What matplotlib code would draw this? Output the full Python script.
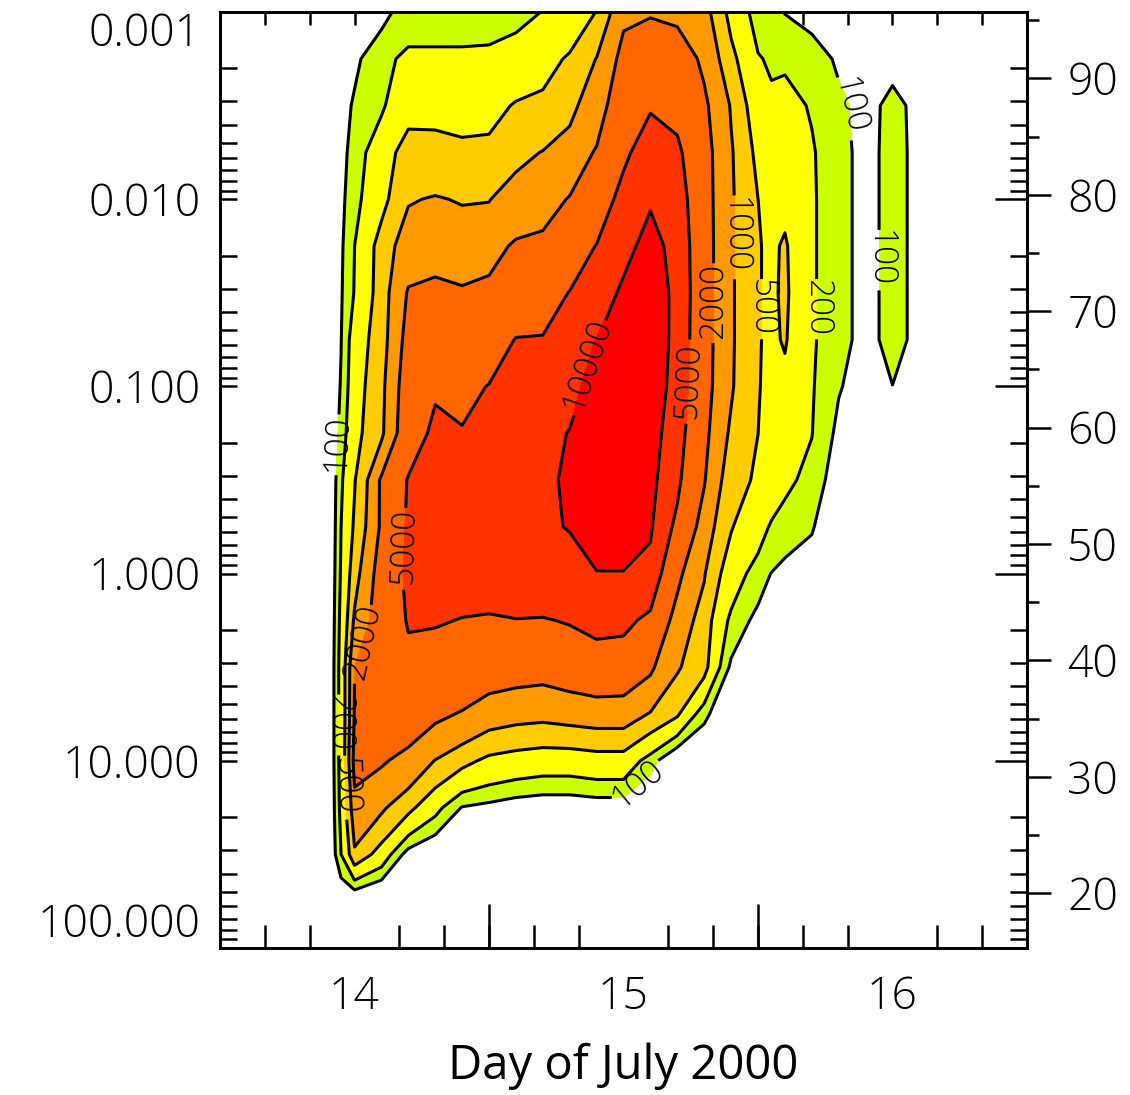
import numpy as np
import matplotlib
matplotlib.use("Agg")
import matplotlib.pyplot as plt
from matplotlib.ticker import FixedLocator, LogLocator, NullFormatter, NullLocator

# profile times, day of July 2000
days = [14.30, 14.40, 14.45, 14.50, 14.60, 14.70, 14.80, 14.90, 15.00,
        15.10, 15.20, 15.30, 15.40, 15.50, 15.60, 15.70, 15.80, 15.90,
        16.00, 16.05, 16.10, 16.20, 16.30, 16.40, 16.50, 16.60, 16.70]

# log10 pressure (hPa) of the levels, top to bottom
log_pressure = [-3.0, -2.75, -2.5, -2.25, -2.0, -1.75, -1.5, -1.25, -1.0,
                -0.75, -0.5, -0.25, 0.0, 0.25, 0.5, 0.75, 1.0, 1.25, 1.5,
                1.75, 2.0]

# log10 of the contoured quantity, one profile per time (top to bottom)
prof_1430 = [1.3, 1.3, 1.3, 1.3, 1.3, 1.3, 1.3, 1.3, 1.3, 1.3, 1.3, 1.3, 1.3, 1.3, 1.3, 1.3, 1.3, 1.3, 1.3, 1.3, 1.3]
prof_1440 = [1.6, 1.6, 1.6, 1.6, 1.6, 1.6, 1.6, 1.6, 1.6, 1.6, 1.6, 1.6, 1.6, 1.6, 1.6, 1.6, 1.6, 1.6, 1.6, 1.6, 1.3]
prof_1445 = [1.6, 1.75, 1.85, 1.9, 1.92, 1.95, 1.97, 1.99, 2.03, 2.12, 2.25, 2.3, 2.34, 2.4, 2.45, 2.45, 2.45, 2.4, 2.3, 1.6, 1.3]
prof_1450 = [1.7, 1.93, 2.05, 2.12, 2.2, 2.3, 2.32, 2.5, 2.55, 2.6, 2.68, 2.75, 2.89, 3.05, 3.3, 3.32, 3.4, 3.2, 2.95, 1.6, 1.3]
prof_1460 = [1.9, 2.22, 2.25, 2.55, 2.6, 2.85, 2.87, 2.88, 2.93, 2.95, 3.35, 3.35, 3.46, 3.5, 3.55, 3.45, 3.33, 3.05, 2.55, 1.4, 1.3]
prof_1470 = [2.15, 2.37, 2.6, 2.83, 2.98, 3.15, 3.33, 3.42, 3.5, 3.55, 3.72, 3.75, 3.76, 3.72, 3.62, 3.45, 3.22, 2.8, 1.85, 1.4, 1.3]
prof_1480 = [2.15, 2.37, 2.6, 2.82, 3.02, 3.2, 3.37, 3.52, 3.67, 3.76, 3.82, 3.84, 3.8, 3.72, 3.55, 3.36, 2.99, 2.42, 1.6, 1.4, 1.3]
prof_1490 = [2.15, 2.37, 2.57, 2.78, 2.98, 3.18, 3.33, 3.48, 3.62, 3.72, 3.8, 3.83, 3.8, 3.69, 3.5, 3.28, 2.8, 1.98, 1.5, 1.4, 1.3]
prof_1500 = [2.16, 2.38, 2.58, 2.8, 2.99, 3.2, 3.38, 3.55, 3.71, 3.8, 3.86, 3.87, 3.83, 3.67, 3.45, 3.15, 2.62, 1.9, 1.5, 1.4, 1.3]
prof_1510 = [2.2, 2.47, 2.73, 2.93, 3.13, 3.34, 3.52, 3.71, 3.82, 3.9, 3.93, 3.94, 3.88, 3.69, 3.42, 3.1, 2.55, 1.8, 1.5, 1.4, 1.3]
prof_1520 = [2.31, 2.55, 2.8, 3.01, 3.18, 3.38, 3.55, 3.72, 3.85, 3.93, 3.96, 3.97, 3.9, 3.68, 3.4, 3.08, 2.5, 1.75, 1.5, 1.4, 1.3]
prof_1530 = [2.45, 2.75, 2.93, 3.12, 3.32, 3.52, 3.71, 3.82, 3.93, 4.01, 4.03, 4.01, 3.9, 3.72, 3.45, 3.12, 2.5, 1.75, 1.5, 1.4, 1.3]
prof_1540 = [2.71, 3.01, 3.16, 3.33, 3.52, 3.71, 3.85, 4.01, 4.1, 4.15, 4.17, 4.12, 3.99, 3.8, 3.5, 3.15, 2.55, 1.8, 1.5, 1.4, 1.3]
prof_1550 = [3.25, 3.4, 3.52, 3.65, 3.8, 3.93, 4.05, 4.15, 4.2, 4.22, 4.2, 4.12, 3.99, 3.78, 3.48, 3.15, 2.55, 1.8, 1.5, 1.4, 1.3]
prof_1560 = [3.28, 3.5, 3.68, 3.83, 3.98, 4.08, 4.13, 4.15, 4.15, 4.12, 4.08, 4.03, 3.92, 3.62, 3.35, 2.98, 2.15, 1.5, 1.4, 1.4, 1.3]
prof_1570 = [3.25, 3.45, 3.62, 3.76, 3.86, 3.92, 3.94, 3.93, 3.9, 3.83, 3.76, 3.62, 3.37, 3.18, 3.03, 2.75, 1.6, 1.5, 1.4, 1.4, 1.3]
prof_1580 = [3.12, 3.25, 3.36, 3.42, 3.43, 3.44, 3.44, 3.43, 3.42, 3.38, 3.32, 3.17, 3.02, 2.88, 2.82, 2.1, 1.5, 1.45, 1.4, 1.4, 1.3]
prof_1590 = [2.6, 2.8, 2.98, 3.03, 3.04, 3.04, 3.04, 3.04, 3.03, 2.95, 2.83, 2.72, 2.5, 2.22, 1.93, 1.6, 1.5, 1.45, 1.4, 1.4, 1.3]
prof_1600 = [2.15, 2.33, 2.5, 2.62, 2.7, 2.72, 2.72, 2.72, 2.72, 2.7, 2.65, 2.45, 2.15, 1.9, 1.6, 1.5, 1.5, 1.45, 1.4, 1.4, 1.3]
prof_1605 = [2.1, 2.25, 2.38, 2.5, 2.58, 2.64, 2.64, 2.64, 2.6, 2.57, 2.5, 2.26, 1.99, 1.8, 1.6, 1.5, 1.5, 1.45, 1.4, 1.4, 1.3]
prof_1610 = [1.99, 2.27, 2.38, 2.5, 2.62, 2.74, 2.76, 2.73, 2.6, 2.5, 2.38, 2.15, 1.9, 1.6, 1.55, 1.5, 1.5, 1.45, 1.4, 1.4, 1.3]
prof_1620 = [1.9, 2.15, 2.28, 2.33, 2.34, 2.34, 2.34, 2.34, 2.33, 2.31, 2.2, 2.03, 1.8, 1.6, 1.55, 1.5, 1.5, 1.45, 1.4, 1.4, 1.3]
prof_1630 = [1.7, 1.95, 2.08, 2.12, 2.12, 2.12, 2.12, 2.12, 2.02, 1.92, 1.8, 1.7, 1.6, 1.55, 1.5, 1.5, 1.5, 1.45, 1.4, 1.4, 1.3]
prof_1640 = [1.7, 1.88, 1.88, 1.88, 1.88, 1.88, 1.88, 1.88, 1.88, 1.8, 1.75, 1.7, 1.6, 1.55, 1.5, 1.5, 1.5, 1.45, 1.4, 1.4, 1.3]
prof_1650 = [1.75, 1.9, 2.1, 2.12, 2.12, 2.12, 2.12, 2.12, 1.995, 1.85, 1.8, 1.7, 1.6, 1.55, 1.5, 1.5, 1.5, 1.45, 1.4, 1.4, 1.3]
prof_1660 = [1.7, 1.9, 1.9, 1.9, 1.9, 1.9, 1.9, 1.9, 1.9, 1.8, 1.75, 1.7, 1.6, 1.55, 1.5, 1.5, 1.5, 1.45, 1.4, 1.4, 1.3]
prof_1670 = [1.6, 1.6, 1.6, 1.6, 1.6, 1.6, 1.6, 1.6, 1.6, 1.6, 1.6, 1.6, 1.6, 1.6, 1.6, 1.6, 1.6, 1.6, 1.6, 1.6, 1.3]

levels = [100, 200, 500, 1000, 2000, 5000, 10000]
fill_colors = ["#ccff00", "#ffff00", "#ffcc00", "#ff9900", "#ff6600", "#ff3300", "#ff0000"]

# where the contour labels sit (day, hPa)
label_days = [14.44, 14.68, 14.528, 14.457, 14.439, 15.32, 15.74, 15.80,
              15.918, 16.01, 16.21, 16.33, 16.457, 15.56]
label_hpa = [0.20, 0.71, 2.3, 13.6, 6.27, 0.0726, 0.093, 0.035,
             0.0156, 0.038, 0.038, 0.0032, 0.0207, 13.6]

pressure_ticks = [0.001, 0.01, 0.1, 1.0, 10.0, 100.0]
pressure_labels = ["0.001", "0.010", "0.100", "1.000", "10.000", "100.000"]
altitude_ticks = [20, 30, 40, 50, 60, 70, 80, 90]
altitude_minor = [25, 35, 45, 55, 65, 75, 85, 95]
day_centres = [14.5, 15.5, 16.5]
day_labels = ["14", "15", "16"]

plt.rcParams["font.family"] = ["Open Sans", "DejaVu Sans"]
plt.rcParams["font.weight"] = "light"

profiles = [prof_1430, prof_1440, prof_1445, prof_1450, prof_1460, prof_1470,
            prof_1480, prof_1490, prof_1500, prof_1510, prof_1520, prof_1530,
            prof_1540, prof_1550, prof_1560, prof_1570, prof_1580, prof_1590,
            prof_1600, prof_1605, prof_1610, prof_1620, prof_1630, prof_1640,
            prof_1650, prof_1660, prof_1670]
Z = np.array(profiles).T
P = 10.0 ** np.array(log_pressure)
log_levels = list(np.log10(levels))

fig = plt.figure(figsize=(11.3, 10.95), dpi=100)
ax = fig.add_axes([220 / 1130, 1 - 948 / 1095, 807 / 1130, 936 / 1095])

# scales first so the labels are placed in the final screen space
ax.set_yscale("log")
ax.set_ylim(100, 0.001)
ax.set_xlim(14, 17)

ax.contourf(days, P, Z, levels=log_levels + [6.0], colors=fill_colors)
cs = ax.contour(days, P, Z, levels=log_levels, colors="k", linewidths=2.2)
ax.clabel(cs, manual=list(zip(label_days, label_hpa)),
          fmt=lambda v: "%d" % round(10 ** v), fontsize=24,
          inline=True, inline_spacing=3)
ax.set_ylim(100, 0.001)
ax.set_xlim(14, 17)

lw = 1.8
fs = 32
ax.set_yticks(pressure_ticks, pressure_labels)
ax.yaxis.set_minor_locator(LogLocator(base=10, subs=range(2, 10), numticks=20))
ax.yaxis.set_minor_formatter(NullFormatter())
ax.tick_params(axis="y", which="both", direction="in", length=12, width=lw,
               left=True, right=False, labelsize=fs, pad=14)
ylabs = ax.get_yticklabels()
ylabs[0].set_va("top")
ylabs[-1].set_va("bottom")

ax.set_xticks(day_centres, day_labels)
ax.xaxis.set_minor_locator(FixedLocator(np.arange(14, 17.01, 1 / 6)))
ax.tick_params(axis="x", which="major", length=0, pad=20, labelsize=fs)
ax.tick_params(axis="x", which="minor", direction="in", length=16.5,
               width=lw, top=False)
ax.set_xlabel("Day of July 2000", fontsize=34, labelpad=16)

# long day ticks on the bottom axis
bot = ax.secondary_xaxis("bottom")
bot.set_xticks([15, 16])
bot.xaxis.set_minor_locator(NullLocator())
bot.tick_params(direction="in", length=32, width=lw, labelbottom=False)

# top axis ticks
top = ax.secondary_xaxis("top")
top.set_xticks([15, 16])
top.xaxis.set_minor_locator(FixedLocator(np.arange(14, 17.01, 1 / 6)))
top.tick_params(which="major", direction="in", length=20, width=lw, labeltop=False)
top.tick_params(which="minor", direction="in", length=9.4, width=lw)

# inner pressure ticks on the right
rgt = ax.secondary_yaxis("right")
rgt.set_yticks(pressure_ticks)
rgt.yaxis.set_minor_locator(LogLocator(base=10, subs=range(2, 10), numticks=20))
rgt.yaxis.set_minor_formatter(NullFormatter())
rgt.tick_params(which="major", direction="in", length=23, width=lw, labelright=False)
rgt.tick_params(which="minor", direction="in", length=12, width=lw)

# altitude axis
alt = ax.twinx()
alt.set_ylim(15.3, 95.7)
alt.set_yticks(altitude_ticks)
alt.yaxis.set_minor_locator(FixedLocator(altitude_minor))
alt.tick_params(axis="y", which="major", direction="out", length=17, width=lw,
                labelsize=fs, pad=12)
alt.tick_params(axis="y", which="minor", direction="out", length=8.6, width=lw)

for a in (ax, alt, bot, top, rgt):
    for s in a.spines.values():
        s.set_linewidth(2.0)

fig.savefig("out.png", dpi=100)
